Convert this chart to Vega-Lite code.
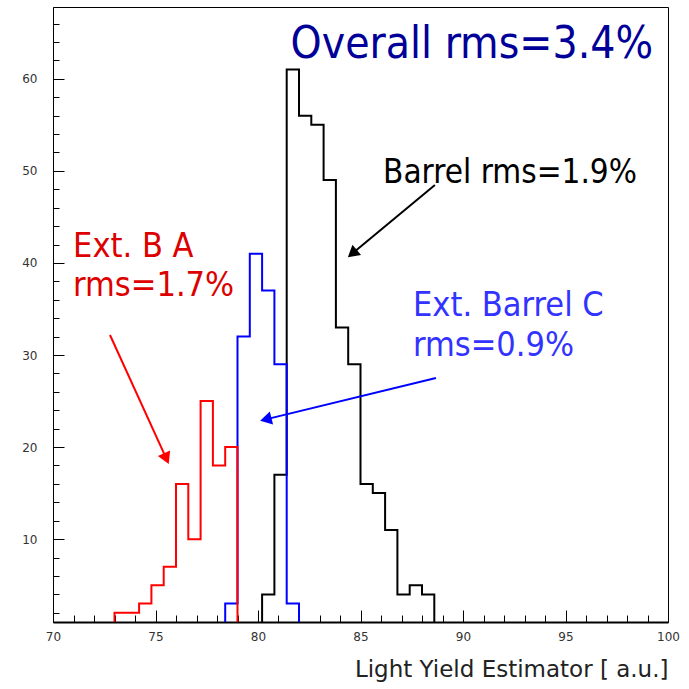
{
  "$schema": "https://vega.github.io/schema/vega-lite/v6.json",
  "width": 615,
  "height": 615,
  "autosize": {"type": "none"},
  "padding": {"left": 53, "top": 7, "right": 21, "bottom": 67},
  "background": "white",
  "config": {
    "view": {"stroke": "#000000", "strokeWidth": 1},
    "axis": {"grid": false, "labelFlush": false, "labelOverlap": false}
  },
  "datasets": {
    "hist": [
      {"series": "Barrel", "x": 79.6, "y": 0},
      {"series": "Barrel", "x": 80.2, "y": 4},
      {"series": "Barrel", "x": 80.8, "y": 17},
      {"series": "Barrel", "x": 81.4, "y": 61},
      {"series": "Barrel", "x": 82.0, "y": 56},
      {"series": "Barrel", "x": 82.6, "y": 55},
      {"series": "Barrel", "x": 83.2, "y": 49},
      {"series": "Barrel", "x": 83.8, "y": 33},
      {"series": "Barrel", "x": 84.4, "y": 29},
      {"series": "Barrel", "x": 85.0, "y": 16},
      {"series": "Barrel", "x": 85.6, "y": 15},
      {"series": "Barrel", "x": 86.2, "y": 11},
      {"series": "Barrel", "x": 86.8, "y": 4},
      {"series": "Barrel", "x": 87.4, "y": 5},
      {"series": "Barrel", "x": 88.0, "y": 4},
      {"series": "Barrel", "x": 88.6, "y": 0},
      {"series": "ExtC", "x": 77.8, "y": 0},
      {"series": "ExtC", "x": 78.4, "y": 3},
      {"series": "ExtC", "x": 79.0, "y": 32},
      {"series": "ExtC", "x": 79.6, "y": 41},
      {"series": "ExtC", "x": 80.2, "y": 37},
      {"series": "ExtC", "x": 80.8, "y": 29},
      {"series": "ExtC", "x": 81.4, "y": 3},
      {"series": "ExtC", "x": 82.0, "y": 0},
      {"series": "ExtA", "x": 72.4, "y": 0},
      {"series": "ExtA", "x": 73.0, "y": 2},
      {"series": "ExtA", "x": 73.6, "y": 2},
      {"series": "ExtA", "x": 74.2, "y": 3},
      {"series": "ExtA", "x": 74.8, "y": 5},
      {"series": "ExtA", "x": 75.4, "y": 7},
      {"series": "ExtA", "x": 76.0, "y": 16},
      {"series": "ExtA", "x": 76.6, "y": 10},
      {"series": "ExtA", "x": 77.2, "y": 25},
      {"series": "ExtA", "x": 77.8, "y": 18},
      {"series": "ExtA", "x": 78.4, "y": 20},
      {"series": "ExtA", "x": 79.0, "y": 0}
    ],
    "notes": [
      {"label": "Overall rms=3.4%", "x": 99.27, "y": 62.26, "kind": "overall"},
      {"label": "Barrel rms=1.9%", "x": 86.1, "y": 48.68, "kind": "barrel"},
      {"label": "Ext. Barrel C", "x": 87.56, "y": 34.24, "kind": "extc"},
      {"label": "rms=0.9%", "x": 87.56, "y": 29.89, "kind": "extc"},
      {"label": "Ext. B A", "x": 70.98, "y": 40.64, "kind": "exta"},
      {"label": "rms=1.7%", "x": 70.98, "y": 36.41, "kind": "exta"}
    ],
    "arrows": [
      {"arrow": "barrel", "x": 88.63, "y": 48.46, "x2": 84.6, "y2": 41.02},
      {"arrow": "extc", "x": 88.68, "y": 27.5, "x2": 80.38, "y2": 23.01},
      {"arrow": "exta", "x": 72.78, "y": 32.17, "x2": 75.53, "y2": 18.75}
    ]
  },
  "layer": [
    {
      "data": {"name": "hist"},
      "transform": [{"filter": "datum.series === 'Barrel'"}],
      "mark": {"type": "line", "interpolate": "step-after", "color": "#000000", "strokeWidth": 2, "clip": true},
      "encoding": {
        "x": {
          "field": "x", "type": "quantitative",
          "scale": {"domain": [70, 100], "nice": false, "zero": false},
          "axis": {
            "title": "Light Yield Estimator [ a.u.]",
            "values": [70,71,72,73,74,75,76,77,78,79,80,81,82,83,84,85,86,87,88,89,90,91,92,93,94,95,96,97,98,99,100],
            "tickCount": 200,
            "format": "d",
            "labelExpr": "datum.value % 5 === 0 ? datum.label : ''",
            "labelOverlap": false,
            "labelFlush": false,
            "tickSize": {"condition": {"test": "datum.value % 5 === 0", "value": -12}, "value": -7},
            "tickColor": "#000000",
            "tickWidth": 1,
            "domainColor": "#000000",
            "domainWidth": 2,
            "labelFont": "DejaVu Sans",
            "labelFontSize": 12,
            "labelColor": "#333333",
            "labelPadding": 21,
            "titleFont": "DejaVu Sans",
            "titleFontSize": 23,
            "titleFontWeight": "normal",
            "titleColor": "#222222",
            "titleAnchor": "end",
            "titlePadding": 11
          }
        },
        "y": {
          "field": "y", "type": "quantitative",
          "scale": {"domain": [1, 67.8], "nice": false, "zero": false},
          "axis": {
            "title": null,
            "values": [2,4,6,8,10,12,14,16,18,20,22,24,26,28,30,32,34,36,38,40,42,44,46,48,50,52,54,56,58,60,62,64,66],
            "tickCount": 200,
            "format": "d",
            "labelExpr": "datum.value % 10 === 0 ? datum.label : ''",
            "labelOverlap": false,
            "labelFlush": false,
            "tickSize": {"condition": {"test": "datum.value % 10 === 0", "value": -11}, "value": -6},
            "tickColor": "#000000",
            "tickWidth": 1,
            "domainColor": "#000000",
            "domainWidth": 1,
            "labelFont": "DejaVu Sans",
            "labelFontSize": 12,
            "labelColor": "#333333",
            "labelPadding": 27
          }
        }
      }
    },
    {
      "data": {"name": "hist"},
      "transform": [{"filter": "datum.series === 'ExtC'"}],
      "mark": {"type": "line", "interpolate": "step-after", "color": "#0000ff", "strokeWidth": 2, "clip": true},
      "encoding": {
        "x": {"field": "x", "type": "quantitative"},
        "y": {"field": "y", "type": "quantitative"}
      }
    },
    {
      "data": {"name": "hist"},
      "transform": [{"filter": "datum.series === 'ExtA'"}],
      "mark": {"type": "line", "interpolate": "step-after", "color": "#ff0000", "strokeWidth": 2, "clip": true},
      "encoding": {
        "x": {"field": "x", "type": "quantitative"},
        "y": {"field": "y", "type": "quantitative"}
      }
    },
    {
      "data": {"name": "arrows"},
      "transform": [{"filter": "datum.arrow === 'barrel'"}],
      "layer": [
        {
          "mark": {"type": "rule", "color": "#000000", "strokeWidth": 2},
          "encoding": {
            "x": {"field": "x", "type": "quantitative"},
            "y": {"field": "y", "type": "quantitative"},
            "x2": {"field": "x2"},
            "y2": {"field": "y2"}
          }
        },
        {
          "mark": {"type": "point", "shape": "triangle-up", "filled": true, "size": 180, "angle": 230, "color": "#000000", "opacity": 1},
          "encoding": {
            "x": {"field": "x2", "type": "quantitative"},
            "y": {"field": "y2", "type": "quantitative"}
          }
        }
      ]
    },
    {
      "data": {"name": "arrows"},
      "transform": [{"filter": "datum.arrow === 'extc'"}],
      "layer": [
        {
          "mark": {"type": "rule", "color": "#0000ff", "strokeWidth": 2},
          "encoding": {
            "x": {"field": "x", "type": "quantitative"},
            "y": {"field": "y", "type": "quantitative"},
            "x2": {"field": "x2"},
            "y2": {"field": "y2"}
          }
        },
        {
          "mark": {"type": "point", "shape": "triangle-up", "filled": true, "size": 180, "angle": 256, "color": "#0000ff", "opacity": 1},
          "encoding": {
            "x": {"field": "x2", "type": "quantitative"},
            "y": {"field": "y2", "type": "quantitative"}
          }
        }
      ]
    },
    {
      "data": {"name": "arrows"},
      "transform": [{"filter": "datum.arrow === 'exta'"}],
      "layer": [
        {
          "mark": {"type": "rule", "color": "#ff0000", "strokeWidth": 2},
          "encoding": {
            "x": {"field": "x", "type": "quantitative"},
            "y": {"field": "y", "type": "quantitative"},
            "x2": {"field": "x2"},
            "y2": {"field": "y2"}
          }
        },
        {
          "mark": {"type": "point", "shape": "triangle-up", "filled": true, "size": 180, "angle": 156, "color": "#ff0000", "opacity": 1},
          "encoding": {
            "x": {"field": "x2", "type": "quantitative"},
            "y": {"field": "y2", "type": "quantitative"}
          }
        }
      ]
    },
    {
      "data": {"name": "notes"},
      "transform": [{"filter": "datum.kind === 'overall'"}],
      "mark": {"type": "text", "align": "right", "baseline": "alphabetic", "font": "DejaVu Sans Condensed", "fontSize": 44, "color": "#000099"},
      "encoding": {
        "x": {"field": "x", "type": "quantitative"},
        "y": {"field": "y", "type": "quantitative"},
        "text": {"field": "label"}
      }
    },
    {
      "data": {"name": "notes"},
      "transform": [{"filter": "datum.kind === 'barrel'"}],
      "mark": {"type": "text", "align": "left", "baseline": "alphabetic", "font": "DejaVu Sans Condensed", "fontSize": 33, "color": "#000000"},
      "encoding": {
        "x": {"field": "x", "type": "quantitative"},
        "y": {"field": "y", "type": "quantitative"},
        "text": {"field": "label"}
      }
    },
    {
      "data": {"name": "notes"},
      "transform": [{"filter": "datum.kind === 'extc'"}],
      "mark": {"type": "text", "align": "left", "baseline": "alphabetic", "font": "DejaVu Sans Condensed", "fontSize": 34, "color": "#3333ff"},
      "encoding": {
        "x": {"field": "x", "type": "quantitative"},
        "y": {"field": "y", "type": "quantitative"},
        "text": {"field": "label"}
      }
    },
    {
      "data": {"name": "notes"},
      "transform": [{"filter": "datum.kind === 'exta'"}],
      "mark": {"type": "text", "align": "left", "baseline": "alphabetic", "font": "DejaVu Sans Condensed", "fontSize": 34, "color": "#dd0000"},
      "encoding": {
        "x": {"field": "x", "type": "quantitative"},
        "y": {"field": "y", "type": "quantitative"},
        "text": {"field": "label"}
      }
    }
  ]
}
